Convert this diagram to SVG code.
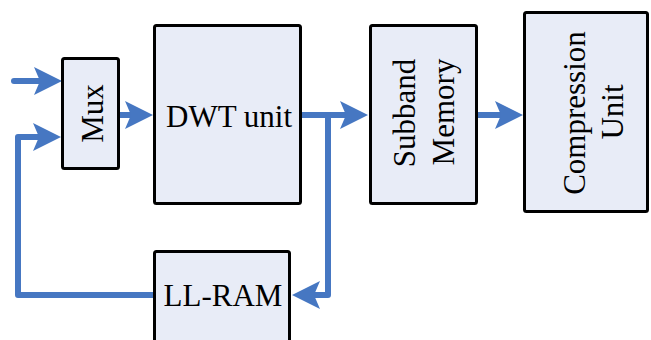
<svg xmlns="http://www.w3.org/2000/svg" width="651" height="340" viewBox="0 0 651 340">
<defs>
<style>
.box{fill:#E8ECF7;stroke:#000;stroke-width:3;}
.lbl{font-family:"Liberation Serif","Times New Roman",serif;font-size:31px;fill:#000;text-anchor:middle;}
.conn{fill:none;stroke:#4677C2;stroke-width:6;stroke-linecap:round;stroke-linejoin:round;marker-end:url(#ah);}
</style>
<marker id="ah" viewBox="0 0 28 28" refX="8" refY="14" markerWidth="28" markerHeight="28" orient="auto" markerUnits="userSpaceOnUse">
<path d="M0,0 L28,14 L0,28 L6,14 Z" fill="#4677C2"/>
</marker>
</defs>
<rect width="651" height="340" fill="#fff"/>
<g id="connectors">
<path class="conn" d="M14,81 H42"/>
<path class="conn" d="M153,295 H18 V137 H41"/>
<path class="conn" d="M120,115 H133"/>
<path class="conn" d="M302,115 H348"/>
<path class="conn" d="M328,115 V295 H312"/>
<path class="conn" d="M478,115 H503"/>
</g>
<g id="mux">
<rect class="box" x="62.5" y="58.5" width="56" height="110" rx="2"/>
<text class="lbl" transform="translate(103,113.5) rotate(-90)">Mux</text>
</g>
<g id="dwt">
<rect class="box" x="154.5" y="25.5" width="146" height="178" rx="2"/>
<text class="lbl" x="229" y="127">DWT unit</text>
</g>
<g id="subband">
<rect class="box" x="370.5" y="25.5" width="106" height="178" rx="2"/>
<text class="lbl" transform="translate(415,113) rotate(-90)">Subband</text>
<text class="lbl" transform="translate(454,112) rotate(-90)">Memory</text>
</g>
<g id="compression">
<rect class="box" x="524.5" y="12.5" width="123" height="199" rx="2"/>
<text class="lbl" transform="translate(585,113) rotate(-90)">Compression</text>
<text class="lbl" transform="translate(623,112) rotate(-90)">Unit</text>
</g>
<g id="llram">
<rect class="box" x="154.5" y="251.5" width="135" height="100" rx="2"/>
<text class="lbl" x="223" y="306">LL-RAM</text>
</g>
</svg>
